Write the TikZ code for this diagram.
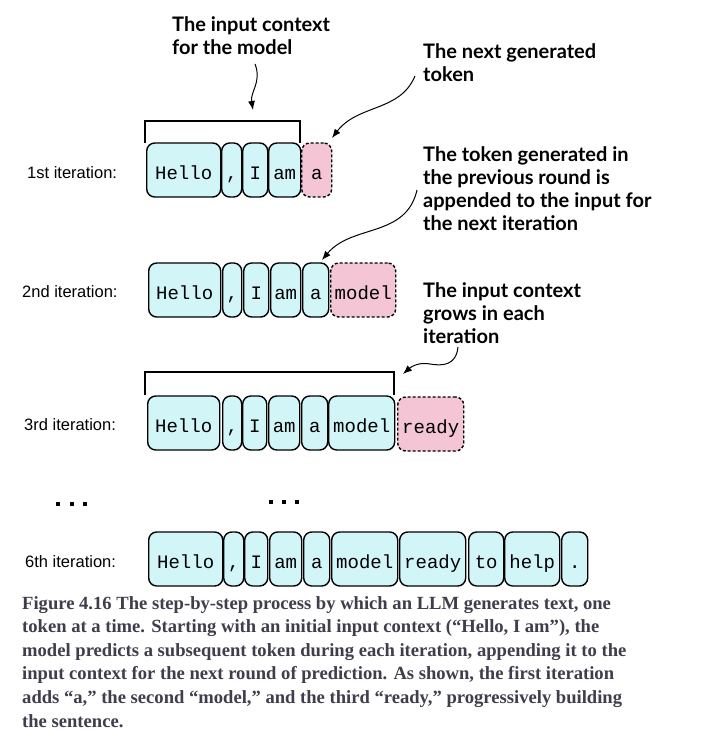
\documentclass[tikz,border=0pt]{standalone}
\usepackage{fontspec}
\usetikzlibrary{arrows.meta}
\newfontfamily\tokfont{Liberation Mono}
\newfontfamily\labfont{Liberation Sans}
\newfontfamily\callfont{Lato}
\newfontfamily\capfont{Liberation Serif}
\definecolor{cyanfill}{HTML}{D2F5F8}
\definecolor{pinkfill}{HTML}{F3C5D5}
\definecolor{capcol}{HTML}{3E3E4C}
\tikzset{
  tok/.style={draw=black, line width=1.4pt, rounded corners=8pt, fill=cyanfill,
    minimum height=54pt, inner sep=0pt, anchor=west,
    font=\tokfont\fontsize{19}{22}\selectfont, text height=22pt, text depth=3pt},
  newtok/.style={tok, fill=pinkfill, dashed, dash pattern=on 3pt off 2pt},
  itlab/.style={anchor=west, inner sep=0pt, font=\labfont\fontsize{16.5}{19}\selectfont},
  callout/.style={anchor=north west, inner sep=0pt, align=left,
    font=\callfont\bfseries\fontsize{20}{23}\selectfont},
  arr/.style={line width=1pt, -{Latex[length=9pt,width=7pt]}},
  brk/.style={line width=1.5pt},
  dot/.style={fill=black, draw=none, minimum size=4.5pt, inner sep=0pt},
}
\begin{document}
\begin{tikzpicture}[x=1pt,y=-1pt]
\useasboundingbox (0,0) rectangle (709,751);
\fill[white] (0,0) rectangle (709,751);

% labels
\node[itlab] (l1) at (27,173) {1st iteration:};
\node[itlab] (l2) at (22,292) {2nd iteration:};
\node[itlab] (l3) at (24,425) {3rd iteration:};
\node[itlab] (l6) at (25,562) {6th iteration:};

% row 1
\node[tok, minimum width=74pt] (a1) at (146,170) {Hello};
\node[tok, minimum width=20pt] (a2) at (221,170) {,};
\node[tok, minimum width=25pt] (a3) at (242,170) {I};
\node[tok, minimum width=32pt] (a4) at (268,170) {am};
\node[newtok, minimum width=30pt] (a5) at (301,170) {a};

% row 2
\node[tok, minimum width=72pt] (b1) at (148,290) {Hello};
\node[tok, minimum width=19pt] (b2) at (222,290) {,};
\node[tok, minimum width=25pt] (b3) at (243,290) {I};
\node[tok, minimum width=30pt] (b4) at (270,290) {am};
\node[tok, minimum width=26pt] (b5) at (302,290) {a};
\node[newtok, minimum width=65pt] (b6) at (330,290) {model};

% row 3
\node[tok, minimum width=72pt] (c1) at (147,423) {Hello};
\node[tok, minimum width=19pt] (c2) at (222,423) {,};
\node[tok, minimum width=24pt] (c3) at (242,423) {I};
\node[tok, minimum width=31pt] (c4) at (268,423) {am};
\node[tok, minimum width=26pt] (c5) at (301,423) {a};
\node[tok, minimum width=66pt] (c6) at (328,423) {model};
\node[newtok, minimum width=66pt] (c7) at (397,424) {ready};

% row 6
\node[tok, minimum width=74pt] (d1) at (148,559) {Hello};
\node[tok, minimum width=20pt] (d2) at (223,559) {,};
\node[tok, minimum width=23pt] (d3) at (244,559) {I};
\node[tok, minimum width=32pt] (d4) at (269,559) {am};
\node[tok, minimum width=26pt] (d5) at (303,559) {a};
\node[tok, minimum width=66pt] (d6) at (331,559) {model};
\node[tok, minimum width=66pt] (d7) at (399,559) {ready};
\node[tok, minimum width=35pt] (d8) at (468,559) {to};
\node[tok, minimum width=55pt] (d9) at (504,559) {help};
\node[tok, minimum width=26pt] (d10) at (561,559) {.};

% brackets
\draw[brk] (145,143) -- (145,121) -- (300,121) -- (300,143);
\draw[brk] (145,395) -- (145,372) -- (394,372) -- (394,395);

% dots
\foreach \x/\n in {58/p1,72/p2,85/p3} \node[dot] (\n) at (\x,504) {};
\foreach \x/\n in {271/q1,284/q2,297/q3} \node[dot] (\n) at (\x,502) {};

% callouts
\node[callout] (t1) at (172,16) {The input context\\for the model};
\node[callout] (t2) at (423,43) {The next generated\\token};
\node[callout] (t3) at (423,146) {The token generated in\\the previous round is\\appended to the input for\\the next iteration};
\node[callout] (t4) at (423,282) {The input context\\grows in each\\iteration};

% arrow end points
\coordinate (s1) at (255,64);  \coordinate (e1) at (253,110);
\coordinate (s2) at (415,76);  \coordinate (e2) at (332,138);
\coordinate (s3) at (417,190); \coordinate (e3) at (322,260);
\coordinate (s4) at (458,347); \coordinate (e4) at (403,374);

\draw[arr] (s1) .. controls (262,82) and (250,92) .. (e1);
\draw[arr] (s2) .. controls (400,112) and (358,104) .. (e2);
\draw[arr] (s3) .. controls (406,238) and (352,224) .. (e3);
\draw[arr] (s4) .. controls (456,366) and (442,366) .. (430,364)
               .. controls (420,362) and (412,366) .. (e4);

% caption
\node[anchor=north west, inner sep=0pt, align=left, text=capcol,
      font=\capfont\bfseries\fontsize{18.6}{23.6}\selectfont] (cap) at (22,596)
{Figure 4.16 The step-by-step process by which an LLM generates text, one\\
token at a time. Starting with an initial input context (“Hello, I am”), the\\
model predicts a subsequent token during each iteration, appending it to the\\
input context for the next round of prediction. As shown, the first iteration\\
adds “a,” the second “model,” and the third “ready,” progressively building\\
the sentence.};
\end{tikzpicture}
\end{document}
